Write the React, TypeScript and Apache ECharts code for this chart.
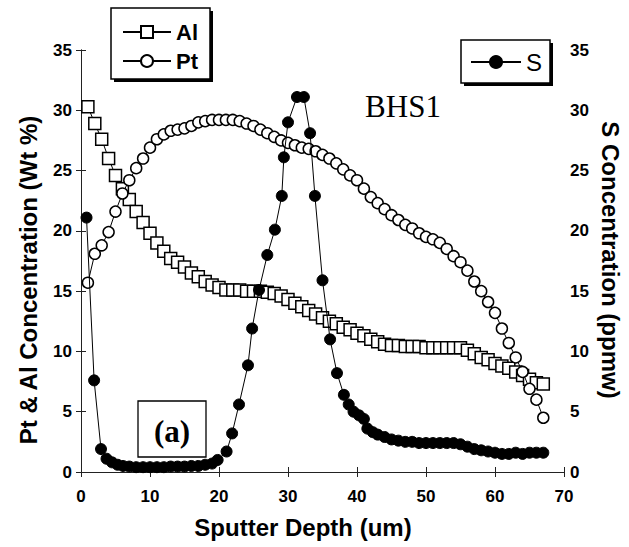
import React, { useEffect, useRef } from "react";
import * as echarts from "echarts";

// Sputter depth (um) for Al and Pt measurements
const depthAlPt = [
  1, 2, 3, 4, 5, 6, 7, 8, 9, 10, 11, 12, 13, 14, 15, 16, 17, 18, 19, 20,
  21, 22, 23, 24, 25, 26, 27, 28, 29, 30, 31, 32, 33, 34, 35, 36, 37, 38, 39, 40,
  41, 42, 43, 44, 45, 46, 47, 48, 49, 50, 51, 52, 53, 54, 55, 56, 57, 58, 59, 60,
  61, 62, 63, 64, 65, 66, 67,
];

// Al concentration (Wt %)
const alValues = [
  30.3, 28.9, 27.6, 26.0, 24.6, 23.5, 22.6, 21.6, 20.7, 19.8, 19.0, 18.3, 17.7, 17.4, 17.0, 16.5, 16.2, 15.8, 15.5, 15.3,
  15.1, 15.1, 15.1, 15.0, 15.0, 15.0, 14.9, 14.8, 14.6, 14.3, 14.0, 13.7, 13.4, 13.1, 12.8, 12.5, 12.3, 12.0, 11.8, 11.5,
  11.3, 11.0, 10.8, 10.6, 10.5, 10.5, 10.4, 10.4, 10.4, 10.3, 10.3, 10.3, 10.3, 10.3, 10.3, 10.1, 9.8, 9.5, 9.3, 9.0,
  8.8, 8.6, 8.3, 8.0, 7.7, 7.4, 7.3,
];

// Pt concentration (Wt %)
const ptValues = [
  15.7, 18.1, 18.8, 19.9, 21.6, 23.1, 24.2, 25.2, 26.0, 26.9, 27.6, 28.0, 28.3, 28.4, 28.5, 28.7, 29.0, 29.1, 29.2, 29.2,
  29.2, 29.2, 29.1, 28.9, 28.7, 28.4, 28.1, 27.8, 27.5, 27.3, 27.1, 26.9, 26.8, 26.6, 26.3, 26.0, 25.6, 25.1, 24.6, 24.2,
  23.5, 22.8, 22.3, 21.8, 21.3, 20.9, 20.5, 20.2, 19.8, 19.5, 19.3, 19.0, 18.5, 17.9, 17.4, 16.7, 15.8, 15.0, 14.1, 13.2,
  11.9, 10.7, 9.5, 8.3, 6.9, 6.0, 4.5,
];

// S measurements: depth (um) and concentration (ppmw)
const sDepth = [
  0.8, 1.9, 2.9, 3.7, 4.5, 5.3, 6.1, 7, 8, 9, 10, 11, 12, 13, 14, 15, 16, 17, 18, 19,
  19.8, 21.1, 21.9, 22.9, 24.2, 24.8, 25.8, 27, 28.1, 29.1, 29.4, 30, 31.3, 32.3, 33.2, 33.9, 35, 36.1, 37.1, 38.1,
  38.8, 39.5, 40.3, 41, 41.5, 42.3, 43, 44, 45, 46, 47, 48, 49, 50, 51, 52, 53, 54, 55, 56,
  57, 58, 59, 60, 61, 62, 63, 64, 65, 66, 67,
];
const sValues = [
  21.1, 7.6, 1.9, 1.1, 0.8, 0.6, 0.5, 0.45, 0.4, 0.4, 0.4, 0.4, 0.4, 0.45, 0.45, 0.45, 0.5, 0.5, 0.6, 0.7,
  1.0, 1.7, 3.2, 5.6, 8.85, 11.9, 15.1, 18.0, 20.1, 22.9, 26.1, 29.0, 31.1, 31.1, 28.1, 22.9, 15.9, 11.0, 8.2, 6.4,
  5.6, 5.0, 4.7, 4.4, 3.6, 3.3, 3.1, 2.9, 2.7, 2.6, 2.5, 2.5, 2.4, 2.4, 2.4, 2.4, 2.4, 2.4, 2.3, 2.1,
  1.9, 1.8, 1.7, 1.6, 1.5, 1.5, 1.6, 1.5, 1.6, 1.6, 1.6,
];

const xTicks = { min: 0, max: 70, interval: 10 };
const yTicks = { min: 0, max: 35, interval: 5 };

const SANS = "'Liberation Sans', Arial, Helvetica, sans-serif";
const SERIF = "'Liberation Serif', 'Times New Roman', serif";

export default function App() {
  const ref = useRef<HTMLDivElement>(null);

  useEffect(() => {
    if (!ref.current) return;
    const chart = echarts.init(ref.current, null, { renderer: "svg" });

    const zip = (xs: number[], ys: number[]) => xs.map((x, i) => [x, ys[i]]);

    const axisLine = { show: true, lineStyle: { color: "#222", width: 1 } };
    const axisTick = { show: true, inside: true, length: 5, lineStyle: { color: "#222", width: 1 } };
    const tickLabel = { color: "#000", fontSize: 17, fontWeight: "bold" as const, fontFamily: SANS };
    const centered = { align: "center", verticalAlign: "middle", textAlign: "center", textVerticalAlign: "middle" };

    const option: any = {
      animation: false,
      backgroundColor: "#fff",
      grid: { left: 81, right: 65, top: 50, bottom: 75, containLabel: false },
      xAxis: [
        {
          type: "value",
          position: "bottom",
          ...xTicks,
          axisLine,
          axisTick,
          splitLine: { show: false },
          axisLabel: { ...tickLabel, margin: 16 },
        },
        {
          type: "value",
          position: "top",
          ...xTicks,
          axisLine,
          axisTick,
          splitLine: { show: false },
          axisLabel: { show: false },
        },
      ],
      yAxis: [
        {
          type: "value",
          position: "left",
          ...yTicks,
          axisLine,
          axisTick,
          splitLine: { show: false },
          axisLabel: { ...tickLabel, margin: 9 },
        },
        {
          type: "value",
          position: "right",
          ...yTicks,
          axisLine,
          axisTick,
          splitLine: { show: false },
          axisLabel: { ...tickLabel, margin: 6 },
        },
      ],
      legend: [
        {
          data: ["Al", "Pt"],
          orient: "vertical",
          left: 122,
          top: 21,
          padding: 0,
          itemWidth: 48,
          itemHeight: 15,
          itemGap: 7,
          selectedMode: false,
          z: 6,
          textStyle: { color: "#000", fontSize: 22, fontWeight: "bold", fontFamily: SANS },
        },
        {
          data: ["S"],
          orient: "vertical",
          left: 470,
          top: 50,
          padding: 0,
          itemWidth: 50,
          itemHeight: 15,
          selectedMode: false,
          z: 6,
          textStyle: { color: "#000", fontSize: 24, fontWeight: "normal", fontFamily: SANS },
        },
      ],
      graphic: [
        // legend box 1 (shadow + frame)
        { type: "rect", z: 5, shape: { x: 114, y: 11, width: 99, height: 71 }, style: { fill: "#000" } },
        { type: "rect", z: 5, shape: { x: 111, y: 8, width: 99, height: 71 }, style: { fill: "#fff", stroke: "#000", lineWidth: 1.5 } },
        // legend box 2
        { type: "rect", z: 5, shape: { x: 464, y: 43, width: 89, height: 43 }, style: { fill: "#000" } },
        { type: "rect", z: 5, shape: { x: 461, y: 40, width: 89, height: 43 }, style: { fill: "#fff", stroke: "#000", lineWidth: 1.5 } },
        // (a) label box
        { type: "rect", z: 5, shape: { x: 138, y: 401, width: 68, height: 56 }, style: { fill: "#fff", stroke: "#000", lineWidth: 1.3 } },
        {
          type: "text", z: 6, x: 172, y: 431,
          style: { text: "(a)", font: `bold 31px ${SERIF}`, fill: "#000", ...centered },
        },
        {
          type: "text", z: 6, x: 403, y: 106,
          style: { text: "BHS1", font: `normal 31px ${SERIF}`, fill: "#000", ...centered },
        },
        // axis titles
        {
          type: "text", z: 6, x: 303, y: 527,
          style: { text: "Sputter Depth (um)", font: `bold 24px ${SANS}`, fill: "#000", ...centered },
        },
        {
          type: "text", z: 6, x: 28, y: 280, rotation: Math.PI / 2,
          style: { text: "Pt & Al Concentration (Wt %)", font: `bold 24px ${SANS}`, fill: "#000", ...centered },
        },
        {
          type: "text", z: 6, x: 610, y: 260, rotation: -Math.PI / 2,
          style: { text: "S Concentration (ppmw)", font: `bold 24px ${SANS}`, fill: "#000", ...centered },
        },
      ],
      series: [
        {
          name: "Al",
          type: "line",
          xAxisIndex: 0,
          yAxisIndex: 0,
          data: zip(depthAlPt, alValues),
          symbol: "rect",
          symbolSize: 12,
          showAllSymbol: true,
          silent: true,
          z: 2,
          lineStyle: { color: "#000", width: 1 },
          itemStyle: { color: "#fff", borderColor: "#000", borderWidth: 1.5 },
          emphasis: { disabled: true },
        },
        {
          name: "Pt",
          type: "line",
          xAxisIndex: 0,
          yAxisIndex: 0,
          data: zip(depthAlPt, ptValues),
          symbol: "circle",
          symbolSize: 11,
          showAllSymbol: true,
          silent: true,
          z: 3,
          lineStyle: { color: "#000", width: 1 },
          itemStyle: { color: "#fff", borderColor: "#000", borderWidth: 1.5 },
          emphasis: { disabled: true },
        },
        {
          name: "S",
          type: "line",
          xAxisIndex: 0,
          yAxisIndex: 1,
          data: zip(sDepth, sValues),
          symbol: "circle",
          symbolSize: 11,
          showAllSymbol: true,
          silent: true,
          z: 4,
          lineStyle: { color: "#000", width: 1 },
          itemStyle: { color: "#000", borderColor: "#000", borderWidth: 1 },
          emphasis: { disabled: true },
        },
      ],
    };

    chart.setOption(option);
    return () => chart.dispose();
  }, []);

  return (
    <div
      ref={ref}
      style={{ position: "fixed", left: 0, top: 0, width: 629, height: 547, background: "#fff" }}
    />
  );
}
